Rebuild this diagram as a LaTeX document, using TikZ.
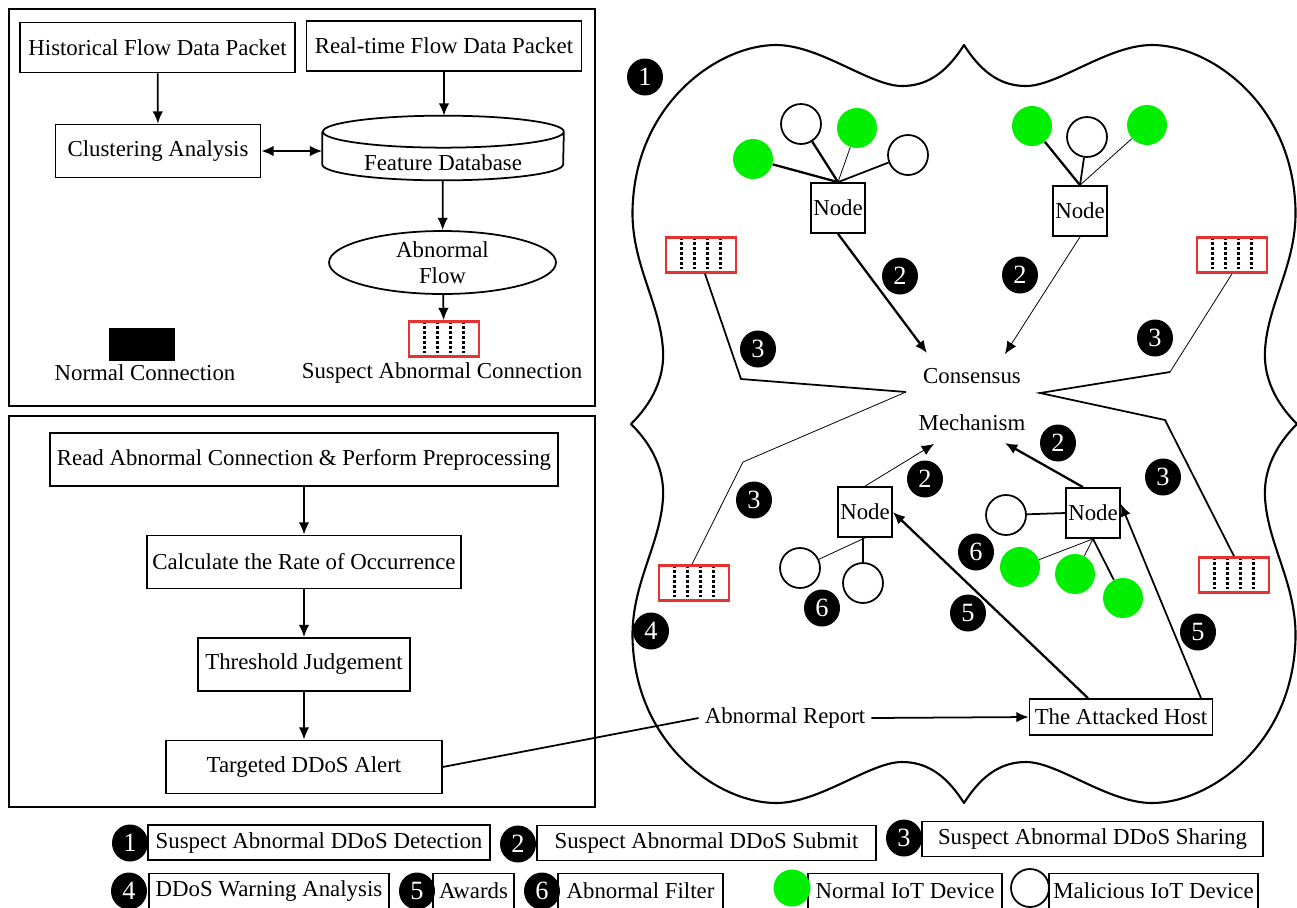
\documentclass[tikz,border=0pt]{standalone}
\usepackage{fontspec}
\setmainfont{Liberation Serif}
\usetikzlibrary{shapes.geometric,positioning,arrows.meta}

\definecolor{iotgreen}{RGB}{0,238,0}
\definecolor{flagred}{RGB}{232,50,50}

\tikzstyle{panel} = [draw=black,line width=1.1pt]
\tikzstyle{proc} = [rectangle,draw=black,line width=1pt,text centered,inner sep=1pt]
\tikzstyle{store} = [rectangle,minimum width=4.82cm,minimum height=1.28cm,inner sep=0pt]
\tikzstyle{flow} = [ellipse,draw=black,line width=1pt,minimum width=4.54cm,minimum height=1.26cm,inner sep=0pt,align=center]
\tikzstyle{suspect} = [rectangle,draw=flagred,line width=1.5pt,minimum width=1.4cm,minimum height=0.7cm,
  path picture={\foreach \dx in {-0.39,-0.13,0.13,0.39} \draw[black,line width=1.4pt,dash pattern=on 1.4pt off 1.4pt] ([xshift=\dx cm]path picture bounding box.north) -- ([xshift=\dx cm]path picture bounding box.south);}]
\tikzstyle{normconn} = [rectangle,fill=black,minimum width=1.32cm,minimum height=0.66cm]
\tikzstyle{nodebox} = [rectangle,draw=black,line width=1pt,minimum width=1.08cm,minimum height=1cm,inner sep=1pt]
\tikzstyle{hostbox} = [rectangle,draw=black,line width=1pt,minimum width=3.66cm,minimum height=0.72cm,inner sep=1pt]
\tikzstyle{badge} = [ellipse,fill=black,text=white,minimum width=0.72cm,minimum height=0.74cm,inner sep=0pt,font=\fontsize{15}{15}\selectfont]
\tikzstyle{goodiot} = [circle,fill=iotgreen,minimum size=0.8cm,inner sep=0pt]
\tikzstyle{badiot} = [circle,draw=black,line width=1pt,fill=white,minimum size=0.8cm,inner sep=0pt]
\tikzstyle{legendbox} = [rectangle,draw=black,line width=1pt,minimum height=0.7cm,inner sep=1pt]
\tikzstyle{wire} = [line width=1pt]
\tikzstyle{thinwire} = [line width=0.45pt]
\tikzstyle{heavywire} = [line width=1.3pt]
\tikzstyle{cloudline} = [line width=1.2pt,line join=round,line cap=round]

\begin{document}
\begin{tikzpicture}[x=0.02cm,y=-0.02cm,>={Latex[length=7pt,width=6pt]},font=\fontsize{13}{15}\selectfont,node distance=2.05cm]
    \useasboundingbox (0,0) rectangle (1297,907);

    % Detection panel
    \draw[panel] (9,9) rectangle (595,406);
    \node[proc,minimum width=5.5cm,minimum height=1cm] (hist) at (157.5,47.5) {Historical Flow Data Packet};
    \node[proc,minimum width=5.5cm,minimum height=1cm] (real) at (444,46) {Real-time Flow Data Packet};
    \node[proc,minimum width=4.1cm,minimum height=1.06cm] (clus) at (158,151) {Clustering Analysis};
    \node[store] (fdb) at (443,148) {};
    \draw[wire] ([yshift=-0.32cm]fdb.north west) -- ([yshift=0.32cm]fdb.south west)
        arc[start angle=180,end angle=360,x radius=2.41cm,y radius=0.32cm]
        -- ([yshift=-0.32cm]fdb.north east)
        arc[start angle=0,end angle=360,x radius=2.41cm,y radius=0.32cm];
    \node (fdbtext) at (443,163) {Feature Database};
    \node[flow] (abflow) at (442.5,262.5) {Abnormal\\Flow};
    \node[suspect] (flag0) at (444,339) {};
    \node (flag0txt) at (442,373) {Suspect Abnormal Connection};
    \node[normconn] (normal) at (142,344) {};
    \node (normaltxt) at (145,373) {Normal Connection};

    \draw[wire,->] (hist) -- (clus);
    \draw[wire,->] (real.south) -- (real.south |- fdb.north);
    \draw[wire,<->] (clus.east) -- (clus.east -| fdb.west);
    \draw[wire,->] (fdb) -- (abflow);
    \draw[wire,->] (abflow) -- (flag0);

    % Analysis panel
    \draw[panel] (9,416) rectangle (595,807);
    \node[proc,minimum width=10.16cm,minimum height=1.06cm] (read) at (304,459.5) {Read Abnormal Connection \& Perform Preprocessing};
    \node[proc,minimum width=6.28cm,minimum height=1.06cm,below of=read] (rate) {Calculate the Rate of Occurrence};
    \node[proc,minimum width=4.24cm,minimum height=1.06cm,below of=rate] (thres) {Threshold Judgement};
    \node[proc,minimum width=5.52cm,minimum height=1.06cm,below of=thres] (alert) {Targeted DDoS Alert};

    \draw[wire,->] (read) -- (rate);
    \draw[wire,->] (rate) -- (thres);
    \draw[wire,->] (thres) -- (alert);

    % Blockchain cloud
    \foreach \sx/\sy in {1/1,-1/1,1/-1,-1/-1}
        \draw[cloudline,shift={(964,424)},xscale=\sx,yscale=\sy] (0,-379)
            .. controls (-19,-349) and (-39,-338) .. (-62,-338)
            .. controls (-94,-338) and (-144,-379) .. (-188,-379)
            .. controls (-244,-379) and (-324,-324) .. (-331,-224)
            .. controls (-336,-164) and (-304,-124) .. (-301,-74)
            .. controls (-299,-39) and (-319,-14) .. (-333,0);

    \node (cons) at (972,376) {Consensus};
    \node (mech) at (972,423) {Mechanism};
    \coordinate (cin1) at (927,353);
    \coordinate (cin2) at (1005,354);
    \coordinate (cin3) at (934,444);
    \coordinate (cin4) at (1005,443);

    % upper nodes
    \node[nodebox] (nd1) at (838,208) {Node};
    \node[goodiot] (g1) at (753,159) {};
    \node[badiot] (m1) at (801,124) {};
    \node[goodiot] (g2) at (857,128) {};
    \node[badiot] (m2) at (908,155) {};
    \draw[heavywire] (g1) -- (nd1.north);
    \draw[heavywire] (m1) -- (nd1.north);
    \draw[thinwire] (g2) -- (nd1.north);
    \draw[wire] (m2) -- (nd1.north);

    \node[nodebox] (nd2) at (1080,211) {Node};
    \node[goodiot] (g3) at (1032,126) {};
    \node[badiot] (m3) at (1087,137) {};
    \node[goodiot] (g4) at (1147,125) {};
    \draw[heavywire] (g3) -- (nd2.north);
    \draw[wire] (m3) -- (nd2.north);
    \draw[thinwire] (g4) -- (nd2.north);

    \draw[heavywire,->] (nd1.south) -- (cin1);
    \draw[thinwire,->] (nd2.south) -- (cin2);

    % lower nodes
    \node[nodebox] (nd3) at (865,512) {Node};
    \node[badiot] (m4) at (800,568) {};
    \node[badiot] (m5) at (863,583) {};
    \draw[thinwire] (m4) -- (nd3.south);
    \draw[wire] (m5) -- (nd3.south -| m5);

    \node[nodebox] (nd4) at (1093,513) {Node};
    \node[badiot] (m6) at (1006,515) {};
    \node[goodiot] (g5) at (1020,567) {};
    \node[goodiot] (g6) at (1075,574) {};
    \node[goodiot] (g7) at (1123,598) {};
    \draw[wire] (m6) -- (nd4.west);
    \draw[thinwire] (g5) -- (nd4.south);
    \draw[thinwire] (g6) -- (nd4.south);
    \draw[wire] (g7) -- (nd4.south);

    \draw[thinwire,->] (nd3.north) -- (cin3);
    \draw[heavywire,->] ([xshift=-0.2cm]nd4.north) -- (cin4);

    % suspect connections shared
    \node[suspect] (flag1) at (701,255) {};
    \node[suspect] (flag2) at (1232,255) {};
    \node[suspect] (flag3) at (694,583) {};
    \node[suspect] (flag4) at (1234,575) {};
    \coordinate (zl1) at (741,379);
    \coordinate (zl2) at (906,392);
    \coordinate (zl3) at (743,462);
    \coordinate (zr1) at (1170,372);
    \coordinate (zr2) at (1040,393);
    \coordinate (zr3) at (1165,420);
    \draw[wire] ([xshift=0.08cm]flag1.south) -- (zl1) -- (zl2);
    \draw[thinwire] (zl2) -- (zl3) -- ([xshift=-0.04cm]flag3.north);
    \draw[thinwire] (flag2.south) -- (zr1);
    \draw[wire] (zr1) -- (zr2) -- (zr3) -- (flag4.north);

    % attacked host
    \node[hostbox] (host) at (1121,717) {The Attacked Host};
    \node (report) at (785,718) {Abnormal Report};
    \draw[heavywire,->] ([xshift=-0.66cm]host.north) -- (nd3.east);
    \draw[wire,->] ([xshift=1.6cm]host.north) -- ([yshift=0.18cm]nd4.east);
    \draw[wire,->] (report.east) -- (host.west);
    \draw[wire] (alert.east) -- (report.west);

    % step numbers
    \node[badge] (s1) at (645,77) {1};
    \node[badge] (s2a) at (900,276) {2};
    \node[badge] (s2b) at (1020,275) {2};
    \node[badge] (s2c) at (925,479) {2};
    \node[badge] (s2d) at (1058,443) {2};
    \node[badge] (s3a) at (758,349) {3};
    \node[badge] (s3b) at (1155,338) {3};
    \node[badge] (s3c) at (754,500) {3};
    \node[badge] (s3d) at (1163,477) {3};
    \node[badge] (s4) at (651,631) {4};
    \node[badge] (s5a) at (968,613) {5};
    \node[badge] (s5b) at (1198,632) {5};
    \node[badge] (s6a) at (822,608) {6};
    \node[badge] (s6b) at (976,552) {6};

    % legend
    \node[legendbox,minimum width=6.84cm] (l1) at (319,842.5) {Suspect Abnormal DDoS Detection};
    \node[legendbox,minimum width=6.78cm] (l2) at (706.5,843) {Suspect Abnormal DDoS Submit};
    \node[legendbox,minimum width=6.82cm] (l3) at (1092.5,839) {Suspect Abnormal DDoS Sharing};
    \node[legendbox,minimum width=4.8cm] (l4) at (269,891) {DDoS Warning Analysis};
    \node[legendbox,minimum width=1.62cm] (l5) at (473.5,891) {Awards};
    \node[legendbox,minimum width=3.3cm] (l6) at (640.5,891) {Abnormal Filter};
    \node[legendbox,minimum width=3.88cm] (l7) at (905,891) {Normal IoT Device};
    \node[legendbox,minimum width=4.18cm] (l8) at (1153.5,891) {Malicious IoT Device};
    \node[badge] (k1) at (130,843) {1};
    \node[badge] (k2) at (518,844) {2};
    \node[badge] (k3) at (904,838) {3};
    \node[badge] (k4) at (129,891) {4};
    \node[badge] (k5) at (417,891) {5};
    \node[badge] (k6) at (542,891) {6};
    \node[goodiot,minimum size=0.74cm] (k7) at (792,888) {};
    \node[badiot,minimum size=0.76cm] (k8) at (1030,888) {};
\end{tikzpicture}
\end{document}
